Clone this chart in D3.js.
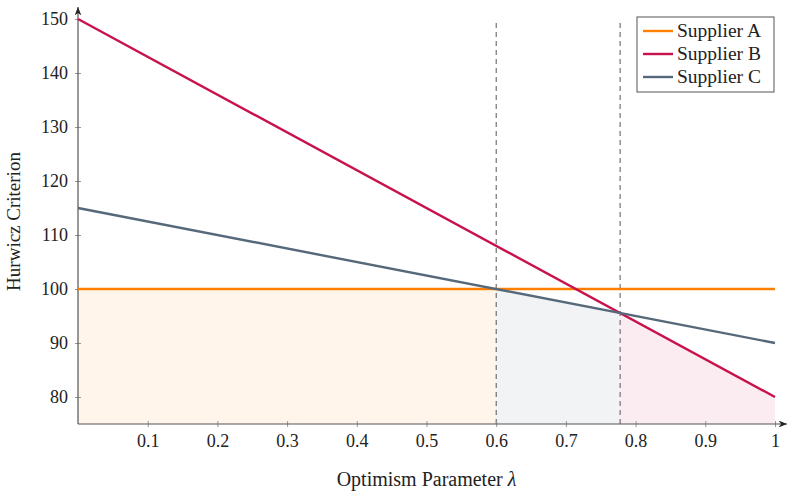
<!DOCTYPE html>
<html>
<head>
<meta charset="utf-8">
<script src="https://cdn.jsdelivr.net/npm/d3@7"></script>
<style>
  body { margin: 0; background: #fff; }
  text { font-family: "Liberation Serif", "DejaVu Serif", serif; fill: #222; }
</style>
</head>
<body>
<svg width="800" height="491"></svg>
<script>
// data
const lambdas = [0, 1];
const supplierA = [100, 100];
const supplierB = [150, 80];
const supplierC = [115, 90];
const seriesNames = ['Supplier A', 'Supplier B', 'Supplier C'];
const seriesColors = ['#ff8000', '#c8124b', '#56697a'];
const xTicks = [0.1, 0.2, 0.3, 0.4, 0.5, 0.6, 0.7, 0.8, 0.9, 1];
const yTicks = [80, 90, 100, 110, 120, 130, 140, 150];

const svg = d3.select('svg');
const margin = { top: 19, right: 25, bottom: 67, left: 78 };
const width = +svg.attr('width');
const height = +svg.attr('height');
const innerWidth = width - margin.left - margin.right;
const innerHeight = height - margin.top - margin.bottom;

const xScale = d3.scaleLinear().domain([0, 1]).range([0, innerWidth]);
const yScale = d3.scaleLinear().domain([75, 150]).range([innerHeight, 0]);

const g = svg.append('g').attr('transform', `translate(${margin.left},${margin.top})`);

const series = [supplierA, supplierB, supplierC].map((vals, i) => ({
  name: seriesNames[i],
  color: seriesColors[i],
  points: lambdas.map((l, j) => ({ x: l, y: vals[j] })),
  // linear: value = a + b*lambda
  a: vals[0],
  b: (vals[1] - vals[0]) / (lambdas[1] - lambdas[0])
}));

// lower envelope: find breakpoints where the min series changes
const crossings = [];
for (let i = 0; i < series.length; i++) {
  for (let j = i + 1; j < series.length; j++) {
    const s = series[i], t = series[j];
    if (s.b !== t.b) {
      const l = (t.a - s.a) / (s.b - t.b);
      if (l > 0 && l < 1) crossings.push(l);
    }
  }
}
const cuts = [0, ...crossings.sort((a, b) => a - b), 1];
const val = (s, l) => s.a + s.b * l;
const segments = [];
for (let k = 0; k < cuts.length - 1; k++) {
  const mid = (cuts[k] + cuts[k + 1]) / 2;
  const best = series.reduce((m, s) => (val(s, mid) < val(m, mid) ? s : m));
  const last = segments[segments.length - 1];
  if (last && last.s === best) last.x1 = cuts[k + 1];
  else segments.push({ s: best, x0: cuts[k], x1: cuts[k + 1] });
}

const area = d3.area()
  .x(d => xScale(d))
  .y0(yScale(75));

segments.forEach(seg => {
  g.append('path')
    .attr('d', area.y1(d => yScale(val(seg.s, d)))([seg.x0, seg.x1]))
    .attr('fill', seg.s.color)
    .attr('fill-opacity', 0.08);
});

// dashed switching lines
segments.slice(1).forEach(seg => {
  g.append('line')
    .attr('x1', xScale(seg.x0)).attr('x2', xScale(seg.x0))
    .attr('y1', innerHeight).attr('y2', yScale(149.5))
    .attr('stroke', '#555')
    .attr('stroke-width', 1)
    .attr('stroke-dasharray', '5,4');
});

// axes
const xAxis = d3.axisBottom(xScale).tickValues(xTicks).tickSize(3).tickPadding(7)
  .tickFormat(d => d === 1 ? '1' : d3.format('.1f')(d));
const xAxisG = g.append('g').attr('transform', `translate(0,${innerHeight})`).call(xAxis)
  .attr('font-family', null).attr('font-size', null);
xAxisG.select('.domain').remove();
xAxisG.selectAll('.tick line').attr('y1', -3).attr('stroke', '#999');
xAxisG.selectAll('.tick text').attr('font-size', 18).attr('fill', '#222');

const yAxis = d3.axisLeft(yScale).tickValues(yTicks).tickSize(3).tickPadding(7);
const yAxisG = g.append('g').call(yAxis)
  .attr('font-family', null).attr('font-size', null);
yAxisG.select('.domain').remove();
yAxisG.selectAll('.tick line').attr('x1', -3).attr('x2', 3).attr('stroke', '#999');
yAxisG.selectAll('.tick text').attr('font-size', 18).attr('fill', '#222');

// axis lines with arrows
svg.append('defs').append('marker')
  .attr('id', 'arrow')
  .attr('viewBox', '0 0 10 10')
  .attr('refX', 10).attr('refY', 5)
  .attr('markerWidth', 7).attr('markerHeight', 7)
  .attr('orient', 'auto')
  .append('path').attr('d', 'M0,1 L10,5 L0,9 L3,5 Z').attr('fill', '#222');

g.append('line')
  .attr('x1', 0).attr('x2', innerWidth + 12)
  .attr('y1', innerHeight).attr('y2', innerHeight)
  .attr('stroke', '#555').attr('stroke-width', 1.2)
  .attr('marker-end', 'url(#arrow)');
g.append('line')
  .attr('x1', 0).attr('x2', 0)
  .attr('y1', innerHeight).attr('y2', -12)
  .attr('stroke', '#555').attr('stroke-width', 1.2)
  .attr('marker-end', 'url(#arrow)');

// lines
const line = d3.line().x(d => xScale(d.x)).y(d => yScale(d.y));
series.forEach(s => {
  g.append('path')
    .attr('d', line(s.points))
    .attr('fill', 'none')
    .attr('stroke', s.color)
    .attr('stroke-width', 2.4);
});

// axis labels
g.append('text')
  .attr('x', innerWidth / 2).attr('y', innerHeight + 62)
  .attr('text-anchor', 'middle')
  .attr('font-size', 20)
  .html('Optimism Parameter <tspan font-style="italic">λ</tspan>');

g.append('text')
  .attr('transform', `translate(-58,${innerHeight / 2}) rotate(-90)`)
  .attr('text-anchor', 'middle')
  .attr('font-size', 19)
  .text('Hurwicz Criterion');

// legend
const legend = svg.append('g').attr('transform', 'translate(637,17)');
legend.append('rect')
  .attr('width', 137).attr('height', 75)
  .attr('fill', '#fff').attr('stroke', '#555').attr('stroke-width', 1);
series.forEach((s, i) => {
  const y = 14 + i * 23;
  legend.append('line')
    .attr('x1', 6).attr('x2', 36).attr('y1', y).attr('y2', y)
    .attr('stroke', s.color).attr('stroke-width', 2.4);
  legend.append('text')
    .attr('x', 40).attr('y', y + 6)
    .attr('font-size', 19.5)
    .text(s.name);
});
</script>
</body>
</html>
